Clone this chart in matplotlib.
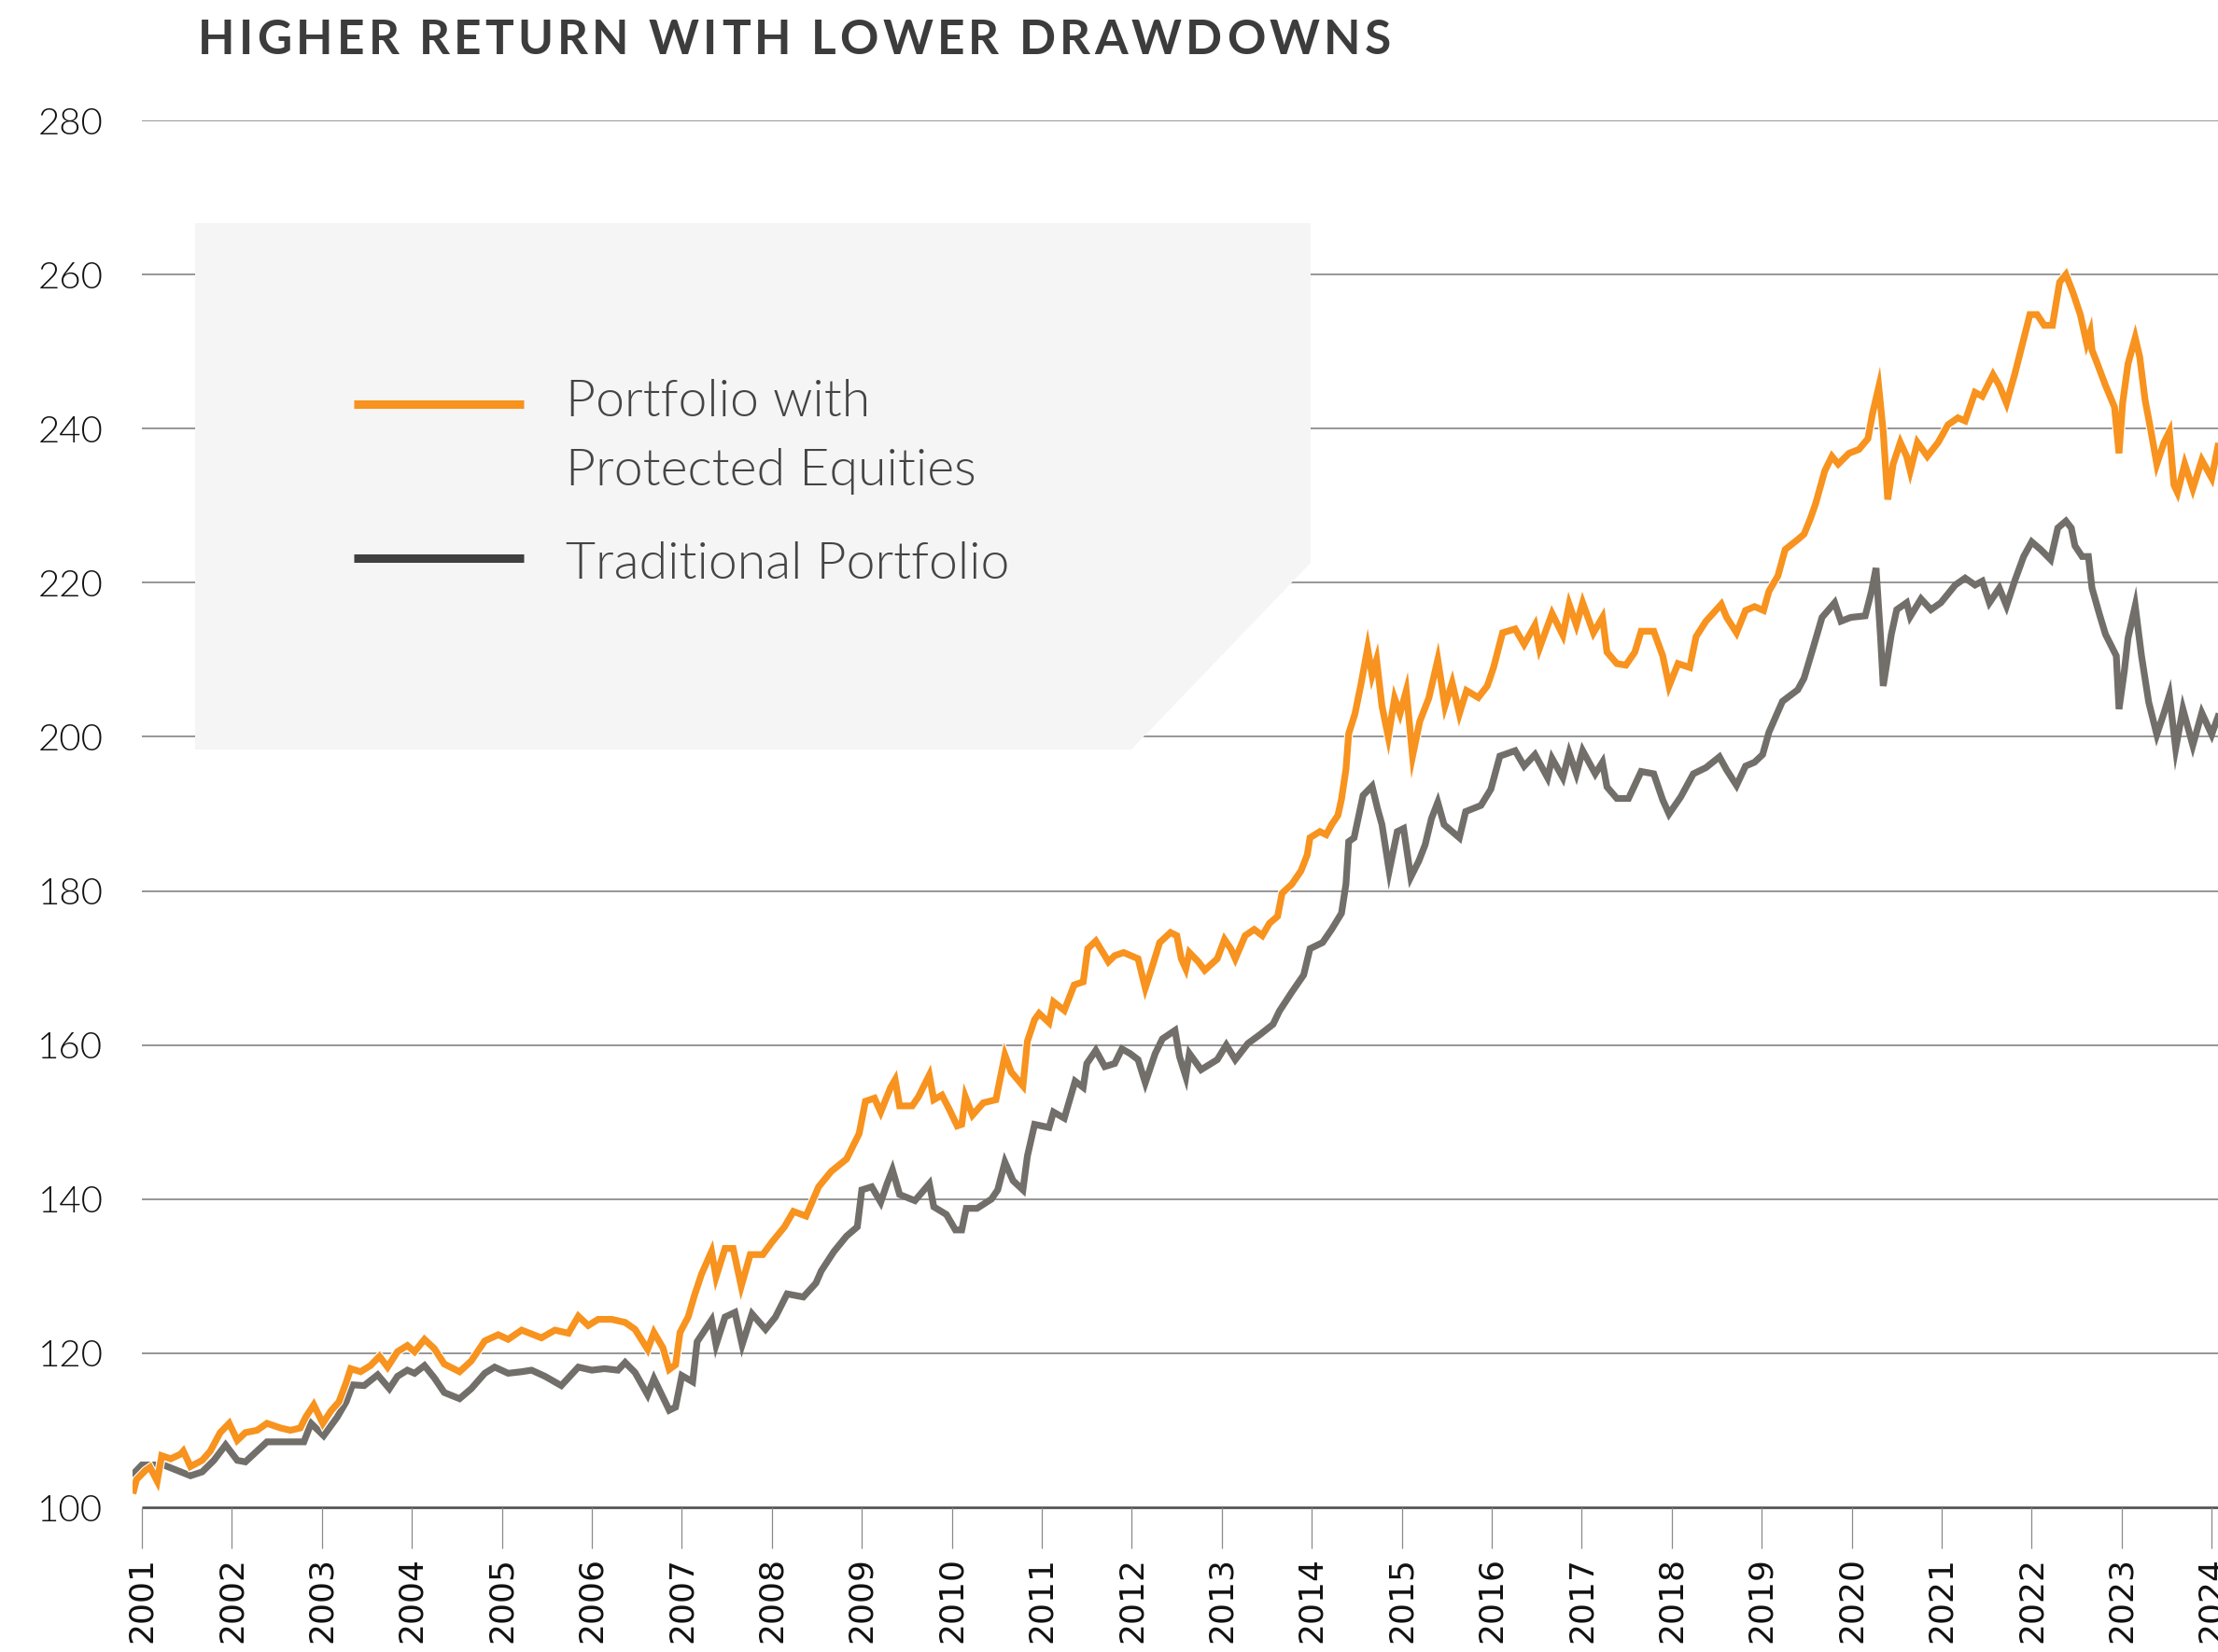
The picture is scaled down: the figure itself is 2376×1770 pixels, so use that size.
"""
Higher return with lower drawdowns: growth of 100 for two portfolios, 2001-2024.
"""

import matplotlib.pyplot as plt
import matplotlib.patheffects as pe
from matplotlib.patches import Polygon

# --- data ------------------------------------------------------------------
x_tick_years = list(range(2001, 2025))
y_ticks = [100, 120, 140, 160, 180, 200, 220, 240, 260, 280]

protected_years = [
    2000.91, 2000.94, 2001.04, 2001.09, 2001.17, 2001.22, 2001.32, 2001.43, 2001.46, 2001.54,
    2001.67, 2001.76, 2001.87, 2001.97, 2002.06, 2002.15, 2002.28, 2002.39, 2002.54, 2002.65,
    2002.76, 2002.82, 2002.91, 2003.01, 2003.10, 2003.19, 2003.27, 2003.32, 2003.43, 2003.54,
    2003.64, 2003.73, 2003.84, 2003.95, 2004.03, 2004.14, 2004.25, 2004.36, 2004.53, 2004.66,
    2004.81, 2004.96, 2005.07, 2005.22, 2005.44, 2005.59, 2005.74, 2005.85, 2005.96, 2006.07,
    2006.22, 2006.37, 2006.48, 2006.62, 2006.69, 2006.79, 2006.86, 2006.93, 2006.98, 2007.07,
    2007.14, 2007.22, 2007.33, 2007.38, 2007.48, 2007.57, 2007.66, 2007.76, 2007.90, 2008.00,
    2008.14, 2008.24, 2008.38, 2008.52, 2008.66, 2008.83, 2008.97, 2009.04, 2009.14, 2009.21,
    2009.32, 2009.37, 2009.42, 2009.56, 2009.63, 2009.75, 2009.80, 2009.89, 2009.97, 2010.06,
    2010.11, 2010.15, 2010.23, 2010.35, 2010.49, 2010.59, 2010.66, 2010.79, 2010.84, 2010.92,
    2010.97, 2011.08, 2011.13, 2011.25, 2011.36, 2011.46, 2011.51, 2011.60, 2011.70, 2011.74,
    2011.81, 2011.91, 2012.07, 2012.15, 2012.22, 2012.31, 2012.43, 2012.50, 2012.55, 2012.60,
    2012.64, 2012.74, 2012.81, 2012.95, 2013.03, 2013.10, 2013.15, 2013.26, 2013.36, 2013.45,
    2013.53, 2013.62, 2013.67, 2013.78, 2013.88, 2013.95, 2013.98, 2014.09, 2014.16, 2014.22,
    2014.29, 2014.33, 2014.38, 2014.41, 2014.48, 2014.55, 2014.62, 2014.67, 2014.72, 2014.78,
    2014.85, 2014.92, 2014.98, 2015.05, 2015.12, 2015.20, 2015.30, 2015.40, 2015.48, 2015.56,
    2015.64, 2015.72, 2015.85, 2015.95, 2016.02, 2016.12, 2016.26, 2016.36, 2016.48, 2016.53,
    2016.67, 2016.79, 2016.86, 2016.94, 2017.01, 2017.13, 2017.23, 2017.28, 2017.39, 2017.49,
    2017.59, 2017.66, 2017.80, 2017.90, 2017.97, 2018.07, 2018.20, 2018.27, 2018.38, 2018.55,
    2018.61, 2018.72, 2018.82, 2018.92, 2019.02, 2019.08, 2019.18, 2019.26, 2019.40, 2019.47,
    2019.54, 2019.60, 2019.70, 2019.78, 2019.85, 2019.97, 2020.08, 2020.18, 2020.23, 2020.30,
    2020.35, 2020.40, 2020.46, 2020.54, 2020.61, 2020.65, 2020.73, 2020.84, 2020.96, 2021.07,
    2021.18, 2021.26, 2021.37, 2021.45, 2021.57, 2021.64, 2021.72, 2021.81, 2021.91, 2021.98,
    2022.06, 2022.14, 2022.23, 2022.31, 2022.38, 2022.46, 2022.54, 2022.61, 2022.65, 2022.67,
    2022.73, 2022.82, 2022.92, 2022.97, 2023.01, 2023.07, 2023.15, 2023.20, 2023.26, 2023.32,
    2023.39, 2023.47, 2023.53, 2023.58, 2023.62, 2023.70, 2023.79, 2023.89, 2024.00, 2024.07,
]
protected_values = [
    102.2, 103.6, 104.8, 105.2, 103.4, 106.7, 106.3, 106.9, 107.3, 105.3,
    106.1, 107.3, 109.7, 110.9, 108.7, 109.7, 110.0, 110.9, 110.3, 110.0,
    110.3, 111.7, 113.3, 110.9, 112.5, 113.7, 116.2, 118.0, 117.6, 118.4,
    119.6, 118.2, 120.2, 121.0, 120.2, 121.8, 120.6, 118.6, 117.6, 119.0,
    121.6, 122.4, 121.8, 123.0, 122.0, 123.0, 122.6, 124.8, 123.6, 124.4,
    124.4, 124.0, 123.1, 120.5, 122.7, 120.7, 117.9, 118.5, 122.7, 124.7,
    127.5, 130.3, 133.2, 129.9, 133.6, 133.6, 128.7, 132.8, 132.8, 134.4,
    136.4, 138.4, 137.8, 141.6, 143.6, 145.2, 148.5, 152.7, 153.1, 151.3,
    154.5, 155.5, 152.1, 152.1, 153.3, 156.1, 152.9, 153.5, 151.7, 149.5,
    149.7, 153.3, 150.9, 152.5, 152.9, 158.7, 156.5, 154.7, 160.5, 163.3,
    164.1, 162.9, 165.6, 164.5, 167.8, 168.2, 172.5, 173.5, 171.6, 170.8,
    171.6, 172.0, 171.2, 167.4, 169.9, 173.3, 174.6, 174.2, 171.2, 169.9,
    172.0, 170.8, 169.7, 171.2, 173.7, 172.5, 171.2, 174.2, 175.0, 174.2,
    175.8, 176.7, 179.7, 180.9, 182.6, 184.7, 186.9, 187.7, 187.3, 188.6,
    189.8, 191.9, 195.8, 200.4, 203.0, 207.0, 211.5, 208.0, 210.0, 204.0,
    200.0, 205.0, 203.0, 206.0, 197.5, 202.0, 205.0, 210.0, 204.0, 207.0,
    203.0, 206.0, 205.1, 206.6, 209.0, 213.5, 214.0, 212.0, 214.5, 211.5,
    216.0, 213.2, 217.2, 214.5, 217.4, 213.5, 215.5, 211.0, 209.5, 209.3,
    211.0, 213.7, 213.7, 210.5, 206.6, 209.5, 209.0, 213.0, 215.0, 217.2,
    215.5, 213.5, 216.4, 216.9, 216.4, 218.9, 220.9, 224.3, 225.6, 226.3,
    228.3, 230.3, 234.5, 236.4, 235.4, 236.8, 237.3, 238.7, 241.9, 245.4,
    239.6, 230.8, 235.4, 238.2, 236.4, 234.5, 238.2, 236.4, 238.2, 240.5,
    241.4, 241.0, 244.7, 244.2, 247.0, 245.6, 243.3, 247.0, 251.6, 254.8,
    254.8, 253.4, 253.4, 259.0, 260.0, 257.6, 254.8, 251.1, 252.5, 250.2,
    248.4, 245.6, 242.8, 236.8, 243.3, 248.4, 251.8, 249.3, 243.7, 240.0,
    235.4, 238.2, 239.6, 232.7, 231.7, 235.4, 232.2, 235.9, 233.6, 237.7,
]

traditional_years = [
    2000.91, 2001.00, 2001.24, 2001.39, 2001.54, 2001.67, 2001.80, 2001.93, 2002.06, 2002.15,
    2002.28, 2002.39, 2002.54, 2002.80, 2002.88, 2003.02, 2003.17, 2003.27, 2003.34, 2003.47,
    2003.62, 2003.75, 2003.84, 2003.95, 2004.03, 2004.14, 2004.25, 2004.36, 2004.53, 2004.66,
    2004.81, 2004.92, 2005.07, 2005.22, 2005.33, 2005.48, 2005.66, 2005.85, 2006.00, 2006.14,
    2006.29, 2006.37, 2006.48, 2006.62, 2006.69, 2006.86, 2006.93, 2007.00, 2007.12, 2007.17,
    2007.33, 2007.38, 2007.48, 2007.59, 2007.67, 2007.78, 2007.93, 2008.04, 2008.17, 2008.35,
    2008.49, 2008.55, 2008.69, 2008.83, 2008.95, 2009.00, 2009.11, 2009.21, 2009.28, 2009.34,
    2009.42, 2009.59, 2009.75, 2009.80, 2009.94, 2010.04, 2010.11, 2010.16, 2010.28, 2010.44,
    2010.51, 2010.59, 2010.68, 2010.79, 2010.84, 2010.92, 2011.08, 2011.13, 2011.25, 2011.37,
    2011.46, 2011.50, 2011.60, 2011.70, 2011.81, 2011.89, 2011.98, 2012.07, 2012.15, 2012.26,
    2012.34, 2012.48, 2012.53, 2012.60, 2012.64, 2012.77, 2012.95, 2013.05, 2013.15, 2013.29,
    2013.43, 2013.57, 2013.64, 2013.78, 2013.91, 2013.98, 2014.12, 2014.22, 2014.33, 2014.38,
    2014.41, 2014.47, 2014.57, 2014.67, 2014.73, 2014.78, 2014.86, 2014.95, 2015.02, 2015.10,
    2015.19, 2015.26, 2015.33, 2015.40, 2015.47, 2015.64, 2015.71, 2015.88, 2015.99, 2016.09,
    2016.14, 2016.26, 2016.36, 2016.48, 2016.62, 2016.67, 2016.79, 2016.86, 2016.94, 2017.01,
    2017.15, 2017.23, 2017.28, 2017.39, 2017.52, 2017.66, 2017.80, 2017.90, 2017.97, 2018.10,
    2018.24, 2018.38, 2018.53, 2018.61, 2018.72, 2018.82, 2018.92, 2019.01, 2019.08, 2019.23,
    2019.40, 2019.47, 2019.57, 2019.67, 2019.81, 2019.88, 2019.99, 2020.15, 2020.22, 2020.27,
    2020.32, 2020.35, 2020.44, 2020.50, 2020.61, 2020.65, 2020.77, 2020.88, 2020.99, 2021.15,
    2021.26, 2021.37, 2021.45, 2021.53, 2021.64, 2021.72, 2021.81, 2021.91, 2022.00, 2022.10,
    2022.21, 2022.29, 2022.38, 2022.44, 2022.48, 2022.56, 2022.63, 2022.67, 2022.75, 2022.82,
    2022.94, 2022.97, 2023.03, 2023.07, 2023.15, 2023.22, 2023.30, 2023.39, 2023.47, 2023.53,
    2023.60, 2023.68, 2023.79, 2023.89, 2024.00, 2024.07,
]
traditional_values = [
    104.4, 105.5, 105.5, 104.8, 104.1, 104.6, 106.1, 108.1, 106.1, 105.9,
    107.3, 108.5, 108.5, 108.5, 110.9, 109.3, 111.7, 113.7, 115.9, 115.8,
    117.2, 115.4, 117.0, 117.8, 117.4, 118.4, 116.8, 114.9, 114.1, 115.4,
    117.4, 118.2, 117.4, 117.6, 117.8, 117.0, 115.8, 118.2, 117.8, 118.0,
    117.8, 118.8, 117.5, 114.6, 116.7, 112.6, 113.0, 117.1, 116.3, 121.5,
    124.3, 121.1, 124.7, 125.3, 121.1, 125.1, 123.1, 124.7, 127.7, 127.3,
    129.1, 130.7, 133.2, 135.2, 136.4, 141.2, 141.6, 139.6, 142.0, 143.8,
    140.6, 139.8, 142.0, 139.0, 138.0, 136.0, 136.0, 138.8, 138.8, 140.0,
    141.2, 144.8, 142.4, 141.2, 145.6, 149.7, 149.3, 151.3, 150.5, 155.3,
    154.5, 157.6, 159.3, 157.2, 157.6, 159.5, 158.9, 158.1, 155.1, 158.9,
    160.8, 161.9, 158.5, 155.9, 158.9, 156.8, 158.1, 160.0, 158.1, 160.2,
    161.4, 162.7, 164.4, 166.9, 169.1, 172.5, 173.3, 175.0, 177.1, 180.9,
    186.4, 186.9, 192.4, 193.6, 190.7, 188.6, 182.6, 187.7, 188.1, 181.8,
    183.9, 186.0, 189.4, 191.5, 188.6, 186.9, 190.3, 191.1, 193.2, 197.5,
    197.7, 198.2, 196.2, 197.7, 194.7, 197.2, 194.7, 197.9, 195.2, 198.2,
    195.2, 196.7, 193.5, 192.0, 192.0, 195.5, 195.2, 191.8, 190.0, 192.2,
    195.2, 196.0, 197.4, 195.7, 193.7, 196.2, 196.7, 197.7, 200.6, 204.6,
    206.1, 207.6, 211.5, 215.5, 217.4, 215.0, 215.5, 215.7, 218.9, 221.9,
    213.0, 206.6, 213.3, 216.5, 217.4, 215.6, 217.9, 216.5, 217.4, 219.7,
    220.6, 219.7, 220.2, 217.4, 219.3, 217.0, 220.2, 223.4, 225.3, 224.3,
    223.0, 227.1, 228.0, 227.1, 224.8, 223.4, 223.4, 219.3, 216.0, 213.3,
    210.5, 203.6, 208.6, 212.8, 217.0, 210.5, 204.5, 200.3, 203.1, 205.4,
    198.5, 203.6, 198.9, 203.1, 200.3, 202.6,
]

legend_labels = ["Portfolio with\nProtected Equities", "Traditional Portfolio"]
title = "HIGHER RETURN WITH LOWER DRAWDOWNS"

ORANGE = "#F7931E"
GRAY = "#726E6A"
TEXT = "#3C3C3C"

W, H = 2376, 1770  # output size in pixels
fig = plt.figure(figsize=(W / 100, H / 100), dpi=100)

# axes: 2001 sits at x=152px, one year = 96.4px; 100 at y=1615px, 280 at y=129px
x_min, x_max = 2000.9, 2024.07
left_px = 152 - (2001 - x_min) * 96.4
ax = fig.add_axes([left_px / W, (H - 1615) / H, 1 - left_px / W, (1615 - 129) / H])
ax.set_xlim(x_min, x_max)
ax.set_ylim(100, 280)

for side in ["top", "right", "left", "bottom"]:
    ax.spines[side].set_visible(False)

# horizontal grid and base line start at the 2001 tick
ax.hlines(y_ticks[1:], 2001, x_max, color="#8E8E8E", lw=1.3, zorder=1)
ax.hlines(100, 2001, x_max, color="#555555", lw=2.0, zorder=1, clip_on=False)

# legend panel with the cut corner (figure pixels)
panel = [(209, 239), (1404, 239), (1404, 603), (1212, 803), (209, 803)]
panel = [(x / W, 1 - y / H) for x, y in panel]
fig.patches.append(Polygon(panel, closed=True, transform=fig.transFigure,
                           facecolor="#F5F5F5", edgecolor="none", zorder=2))

ax.plot(traditional_years, traditional_values, color=GRAY, lw=5.2, zorder=3,
        solid_joinstyle="miter")
ax.plot(protected_years, protected_values, color=ORANGE, lw=5.2, zorder=4,
        solid_joinstyle="miter",
        path_effects=[pe.Stroke(linewidth=6.8, foreground="white"), pe.Normal()])

# ticks
ax.set_xticks(x_tick_years)
ax.set_xticklabels([str(y) for y in x_tick_years], rotation=90, fontsize=26,
                   family="DejaVu Sans", color="#111111")
ax.tick_params(axis="x", direction="out", length=32, width=0.9, color="#8A8A8A", pad=6)

ax.set_yticks(y_ticks)
ax.set_yticklabels([str(v) for v in y_ticks], fontsize=29, family="Lato",
                   fontweight=300, color="#111111")
ax.tick_params(axis="y", length=0, pad=23)

# title, drawn letter by letter to get the wide tracking of the original
renderer = fig.canvas.get_renderer()
tracking = 4.3  # extra pixels between letters
x0, y0 = 212, 1 - 44 / H
for i, ch in enumerate(title):
    probe = fig.text(0, 0, title[:i] + "|", fontsize=37, family="Lato", fontweight="bold")
    bar = fig.text(0, 0, "|", fontsize=37, family="Lato", fontweight="bold")
    offset = probe.get_window_extent(renderer).width - bar.get_window_extent(renderer).width
    probe.remove()
    bar.remove()
    fig.text((x0 + offset + i * tracking) / W, y0, ch, fontsize=37, family="Lato",
             fontweight="bold", color=TEXT, va="center", ha="left")

# legend entries
leg_colors = [ORANGE, "#3F3F3F"]
leg_y = [433, 598]
text_y = [468, 605]
for label, c, ly, ty in zip(legend_labels, leg_colors, leg_y, text_y):
    fig.add_artist(plt.Line2D([379 / W, 561 / W], [1 - ly / H, 1 - ly / H],
                              transform=fig.transFigure, color=c, lw=6.5,
                              solid_capstyle="butt", zorder=5))
    fig.text(606 / W, 1 - ty / H, label, fontsize=40, family="Lato", fontweight=300,
             color="#444444", va="center", ha="left", linespacing=1.6, zorder=5)

fig.savefig("out.png", dpi=100, facecolor="white")
